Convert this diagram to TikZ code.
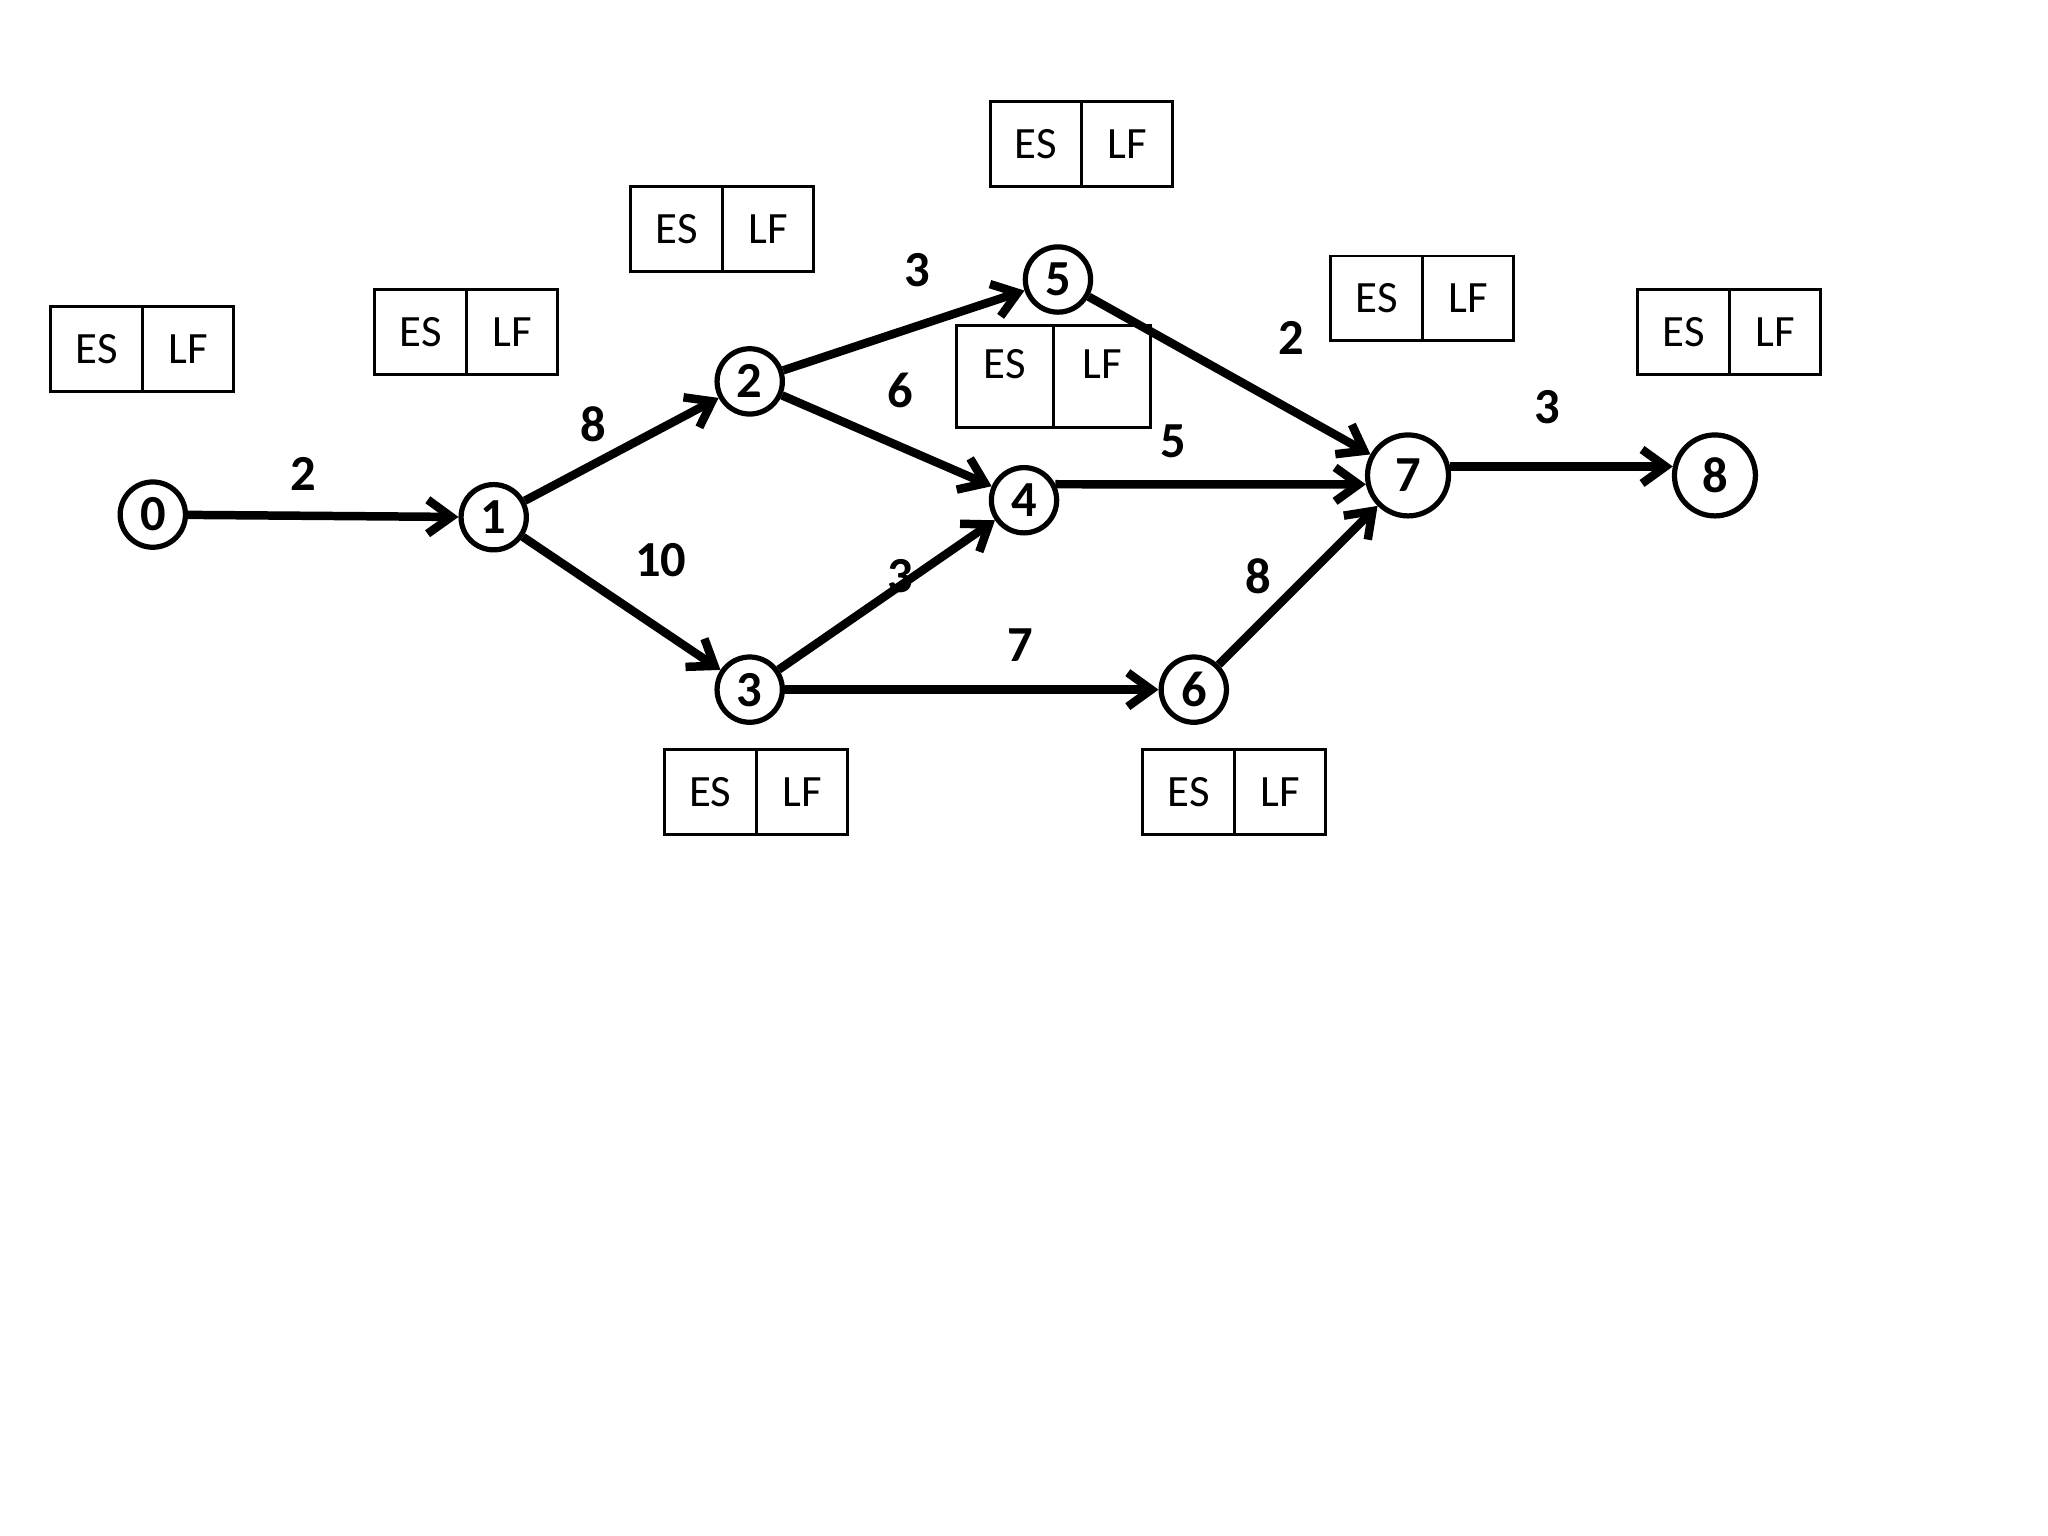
\documentclass[tikz,border=0pt]{standalone}
\usepackage{fontspec}
\setmainfont{Carlito}
\usetikzlibrary{arrows.meta, positioning}
\tikzset{
	evt/.style     ={circle, draw=black, line width=0.08cm, minimum size=1.0cm, inner sep=0pt, fill=white, font=\fontsize{22}{26}\selectfont\bfseries},
	bigevt/.style  ={evt, minimum size=1.24cm},
	cell/.style    ={rectangle, draw=black, line width=0.045cm, minimum width=1.4cm, minimum height=1.3cm, inner sep=0pt, outer sep=0pt, font=\fontsize{19.5}{23}\selectfont},
	tallcell/.style={cell, minimum width=1.49cm, minimum height=1.56cm, text depth=0.36cm},
	dur/.style     ={inner sep=0pt, font=\fontsize{22}{26}\selectfont\bfseries},
	act/.style     ={-{Straight Barb[length=0.36cm, width=0.52cm]}, line width=0.13cm},
}
\begin{document}
\begin{tikzpicture}[x=0.02cm, y=-0.02cm]
	\useasboundingbox (0,0) rectangle (1568,1176);
	% events
	\node[evt] (n0) at (117,394) {0};
	\node[evt] (n1) at (378,396) {1};
	\node[evt] (n2) at (574,292) {2};
	\node[evt] (n3) at (574,528) {3};
	\node[evt] (n4) at (784,383) {4};
	\node[evt] (n5) at (810,214) {5};
	\node[evt] (n6) at (914,528) {6};
	\node[bigevt] (n7) at (1078,364) {7};
	\node[bigevt] (n8) at (1313,364) {8};
	% ES / LF boxes
	\foreach \b/\x/\y in {a/39/235, b/287/222, c/483/143, d/758/78, f/1019/196, g/1254/222, h/509/574, i/875/574}{
		\node[cell, anchor=north west] (\b-es) at (\x,\y) {ES};
		\node[cell, right=0pt of \b-es] (\b-lf) {LF};
	}
	\node[tallcell, anchor=north west] (e-es) at (732,249) {ES};
	\node[tallcell, right=0pt of e-es] (e-lf) {LF};
	% activities
	\draw[act] (n0) -- (n1);
	\draw[act] (n1) -- (n2);
	\draw[act] (n1) -- (n3);
	\draw[act] (n2) -- (n5);
	\draw[act] (n2) -- (n4);
	\draw[act] (n3) -- (n4);
	\draw[act] (n3) -- (n6);
	\draw[act] (n4.27) -- (n7.192);
	\draw[act] (n5) -- (n7);
	\draw[act] (n6) -- (n7);
	\draw[act] (n7.12) -- (n8.168);
	% durations
	\foreach \l/\x/\y/\t in {l01/232/363/2, l12/454/325/8, l13/506/429/10, l25/702/207/3, l24/689/299/6, l34/689/441/3, l47/898/338/5, l36/781/494/7, l57/989/259/2, l67/963/441/8, l78/1185/312/3}
		\node[dur] (\l) at (\x,\y) {\t};
\end{tikzpicture}
\end{document}
